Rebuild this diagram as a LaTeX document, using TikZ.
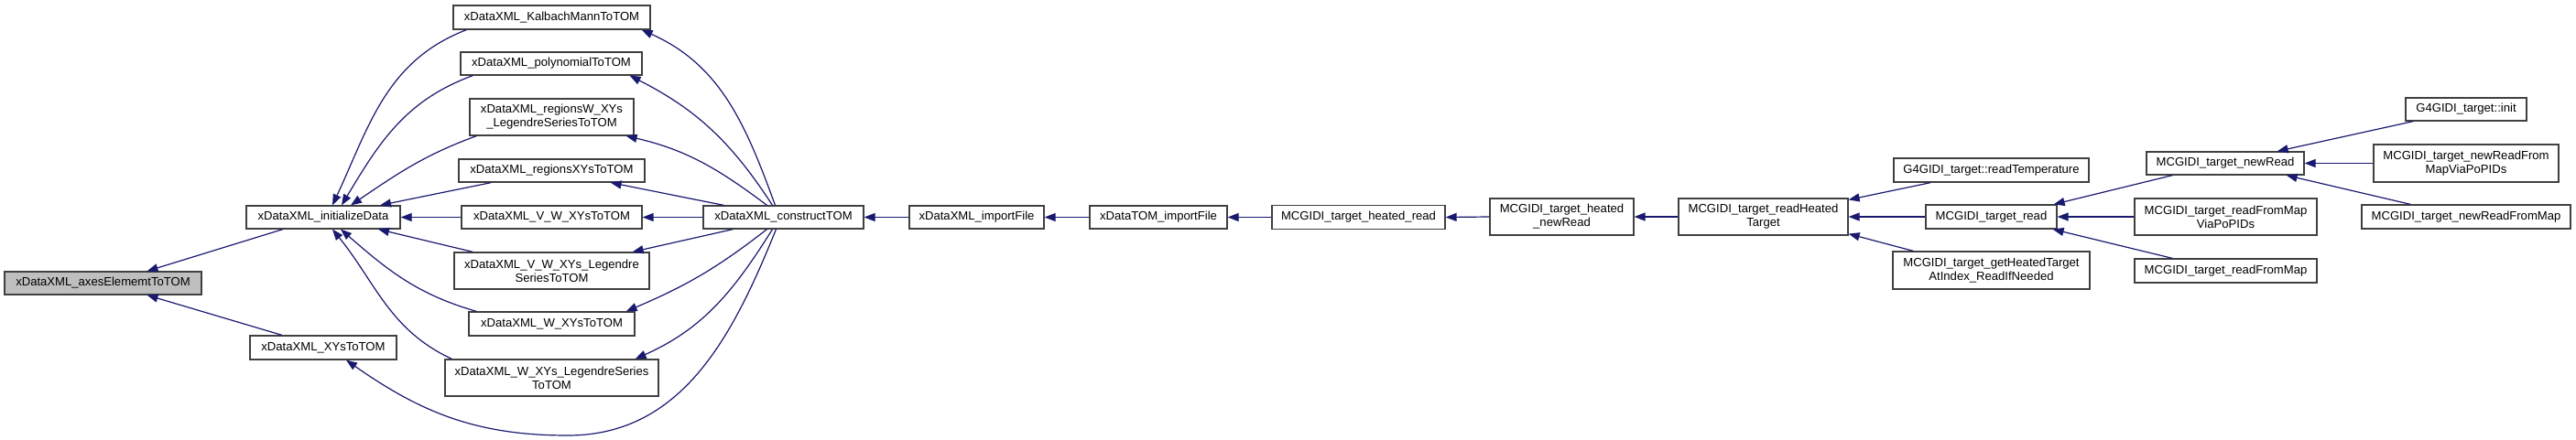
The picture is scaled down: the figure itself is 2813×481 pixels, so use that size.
\documentclass[tikz,border=0pt]{standalone}
\usepackage{fontspec}
\setmainfont{Liberation Sans}
\usetikzlibrary{arrows.meta}
\definecolor{edgecol}{HTML}{191970}
\definecolor{boxborder}{HTML}{404040}
\definecolor{curfill}{HTML}{BFBFBF}
\begin{document}
\begin{tikzpicture}[x=1pt,y=-1pt,
  fnbox/.style={draw=boxborder, line width=1.2pt, fill=white, rectangle, inner sep=0pt,
    align=center, font=\fontsize{13.1}{15}\selectfont, text=black},
  curbox/.style={fnbox, fill=curfill},
  edge/.style={draw=edgecol, line width=1.2pt, -{Triangle[length=12pt,width=9pt]}, fill=none}]
\useasboundingbox (0,0) rectangle (2813,481);
% nodes
\node[curbox, minimum width=215pt, minimum height=25pt] (axes) at (112.5,309.5) {xDataXML\_axesElememtToTOM};
\node[fnbox, minimum width=168pt, minimum height=25pt] (init) at (353,237.5) {xDataXML\_initializeData};
\node[fnbox, minimum width=160pt, minimum height=26pt] (xys) at (353,380) {xDataXML\_XYsToTOM};
\node[fnbox, minimum width=215pt, minimum height=26pt] (kalbach) at (602.5,19) {xDataXML\_KalbachMannToTOM};
\node[fnbox, minimum width=198pt, minimum height=25pt] (poly) at (602,69.5) {xDataXML\_polynomialToTOM};
\node[fnbox, minimum width=179pt, minimum height=40pt] (regW) at (602.5,128) {xDataXML\_regionsW\_XYs\\\_LegendreSeriesToTOM};
\node[fnbox, minimum width=203pt, minimum height=25pt] (regXYs) at (602.5,186.5) {xDataXML\_regionsXYsToTOM};
\node[fnbox, minimum width=197pt, minimum height=25pt] (vwxys) at (602.5,237.5) {xDataXML\_V\_W\_XYsToTOM};
\node[fnbox, minimum width=213pt, minimum height=40pt] (vwxysleg) at (602.5,296) {xDataXML\_V\_W\_XYs\_Legendre\\SeriesToTOM};
\node[fnbox, minimum width=181pt, minimum height=26pt] (wxys) at (602.5,354) {xDataXML\_W\_XYsToTOM};
\node[fnbox, minimum width=233pt, minimum height=40pt] (wxysleg) at (602.5,413) {xDataXML\_W\_XYs\_LegendreSeries\\ToTOM};
\node[fnbox, minimum width=175pt, minimum height=25pt] (construct) at (855.5,237.5) {xDataXML\_constructTOM};
\node[fnbox, minimum width=147pt, minimum height=25pt] (xmlimport) at (1066.5,237.5) {xDataXML\_importFile};
\node[fnbox, minimum width=150pt, minimum height=25pt] (tomimport) at (1265,237.5) {xDataTOM\_importFile};
\node[fnbox, minimum width=189pt, minimum height=26pt] (heatedread) at (1483.5,237.5) {MCGIDI\_target\_heated\_read};
\node[fnbox, minimum width=157pt, minimum height=40pt] (heatednew) at (1705.5,237) {MCGIDI\_target\_heated\\\_newRead};
\node[fnbox, minimum width=185pt, minimum height=40pt] (readheated) at (1925.5,237) {MCGIDI\_target\_readHeated\\Target};
\node[fnbox, minimum width=213pt, minimum height=26pt] (readtemp) at (2174.5,186) {G4GIDI\_target::readTemperature};
\node[fnbox, minimum width=143pt, minimum height=26pt] (targetread) at (2174.5,237) {MCGIDI\_target\_read};
\node[fnbox, minimum width=215pt, minimum height=41pt] (getheated) at (2174.5,295.5) {MCGIDI\_target\_getHeatedTarget\\AtIndex\_ReadIfNeeded};
\node[fnbox, minimum width=172pt, minimum height=25pt] (newread) at (2430,178.5) {MCGIDI\_target\_newRead};
\node[fnbox, minimum width=199pt, minimum height=40pt] (rfmvia) at (2430.5,237) {MCGIDI\_target\_readFromMap\\ViaPoPIDs};
\node[fnbox, minimum width=199pt, minimum height=26pt] (rfm) at (2430.5,296) {MCGIDI\_target\_readFromMap};
\node[fnbox, minimum width=132pt, minimum height=25pt] (g4init) at (2693,119.5) {G4GIDI\_target::init};
\node[fnbox, minimum width=202pt, minimum height=41pt] (nrfmvia) at (2693,178.5) {MCGIDI\_target\_newReadFrom\\MapViaPoPIDs};
\node[fnbox, minimum width=228pt, minimum height=26pt] (nrfm) at (2693,237) {MCGIDI\_target\_newReadFromMap};
\coordinate (xyslow) at (620,476);
% edges to axes
\draw[edge] ([xshift=-44pt]init.south) -- ([xshift=48pt]axes.north);
\draw[edge] ([xshift=-45pt]xys.north) -- ([xshift=48pt]axes.south);
% edges to init
\draw[edge] ([xshift=15pt]kalbach.south west) to[out=201,in=65] ([xshift=10pt]init.north);
\draw[edge] ([xshift=14pt]poly.south west) to[out=200,in=59] ([xshift=20pt]init.north);
\draw[edge] ([xshift=8pt]regW.south west) to[out=200,in=34] ([xshift=30pt]init.north);
\draw[edge] ([xshift=36pt]regXYs.south west) -- ([xshift=62pt]init.north);
\draw[edge] (vwxys.west) -- (init.east);
\draw[edge] ([xshift=21pt]vwxysleg.north west) -- ([xshift=60pt]init.south);
\draw[edge] ([xshift=9pt]wxys.north west) to[out=164,in=319] ([xshift=19pt]init.south);
\draw[edge] ([xshift=8pt]wxysleg.north west) to[out=155,in=309] ([xshift=10pt]init.south);
% edges from construct
\draw[edge] ([xshift=-9pt]construct.north) to[out=110,in=336] ([xshift=-10pt]kalbach.south east);
\draw[edge] ([xshift=-12pt]construct.north) to[out=123,in=333] ([xshift=-14pt]poly.south east);
\draw[edge] ([xshift=-18pt]construct.north) to[out=143,in=347] ([xshift=-9pt]regW.south east);
\draw[edge] ([xshift=-65pt]construct.north) -- ([xshift=-38pt]regXYs.south east);
\draw[edge] (construct.west) -- (vwxys.east);
\draw[edge] ([xshift=-55pt]construct.south) -- ([xshift=-19pt]vwxysleg.north east);
\draw[edge] ([xshift=-18pt]construct.south) to[out=218,in=23] ([xshift=-10pt]wxys.north east);
\draw[edge] ([xshift=-12pt]construct.south) to[out=238,in=24] ([xshift=-26pt]wxysleg.north east);
\draw[edge] ([xshift=-8pt]construct.south) to[out=248,in=0] (xyslow) to[out=180,in=325] ([xshift=25pt]xys.south);
% chain
\draw[edge] (xmlimport.west) -- (construct.east);
\draw[edge] (tomimport.west) -- (xmlimport.east);
\draw[edge] (heatedread.west) -- (tomimport.east);
\draw[edge] (heatednew.west) -- (heatedread.east);
\draw[edge] (readheated.west) -- (heatednew.east);
% to readHeated
\draw[edge] ([xshift=41pt]readtemp.south west) -- ([yshift=-2pt]readheated.north east);
\draw[edge] (targetread.west) -- (readheated.east);
\draw[edge] ([xshift=23pt]getheated.north west) -- ([yshift=2pt]readheated.south east);
% to target_read
\draw[edge] ([xshift=29pt]newread.south west) -- ([xshift=-4pt]targetread.north east);
\draw[edge] (rfmvia.west) -- (targetread.east);
\draw[edge] ([xshift=42pt]rfm.north west) -- ([xshift=-5pt]targetread.south east);
% to newRead
\draw[edge] ([xshift=9pt]g4init.south west) -- ([xshift=-30pt]newread.north east);
\draw[edge] (nrfmvia.west) -- (newread.east);
\draw[edge] ([xshift=54pt]nrfm.north west) -- ([xshift=-20pt]newread.south east);
\end{tikzpicture}
\end{document}
